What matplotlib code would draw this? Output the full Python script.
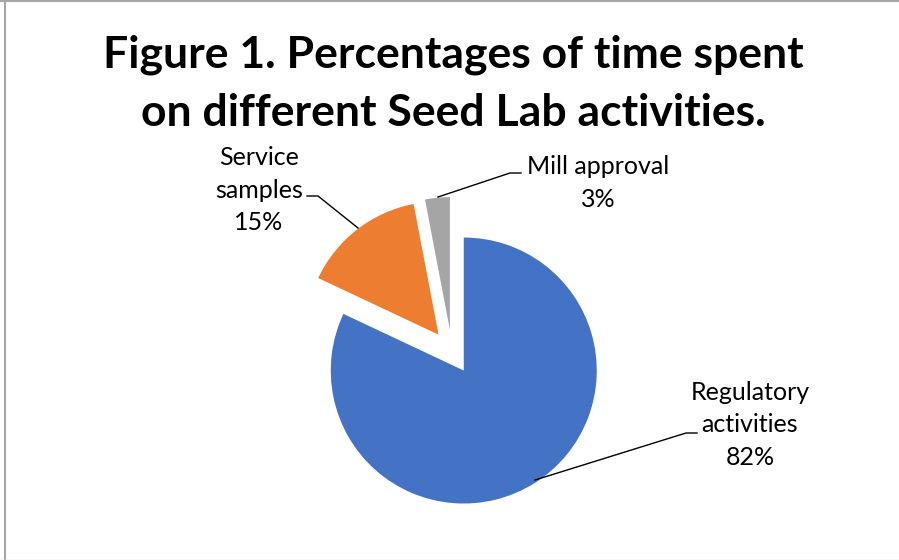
import matplotlib
matplotlib.use('Agg')
import matplotlib.pyplot as plt
import numpy as np

# data
categories = ['Regulatory\nactivities', 'Service\nsamples', 'Mill approval']
shares = [82, 15, 3]
colors = ['#4472C4', '#ED7D31', '#A5A5A5']
title = 'Figure 1. Percentages of time spent\non different Seed Lab activities.'

W, H = 899, 560
R_PX = 133.0          # pie radius in pixels
CX, CY = 452.0, 352.0  # pie centre (pixels from top-left)

plt.rcParams['font.family'] = ['Lato', 'DejaVu Sans']

fig = plt.figure(figsize=(W / 100, H / 100), dpi=100)
ax = fig.add_axes([0, 0, 1, 1])

wedges, _ = ax.pie(shares, colors=colors, startangle=90, counterclock=False,
                   explode=[0.165] * len(shares), radius=1.0,
                   wedgeprops=dict(linewidth=0))

ax.set_aspect('auto')
ax.set_xlim(-CX / R_PX, (W - CX) / R_PX)
ax.set_ylim(-(H - CY) / R_PX, CY / R_PX)
ax.axis('off')


def px(x, y):
    # pixel coords (top-left origin) -> data coords
    return (x - CX) / R_PX, (CY - y) / R_PX


# label positions and leader lines (pixels)
label_pos = [(750, 425), (259, 190), (598, 183)]
leaders = [
    [(697, 433), (686, 433), (535, 480)],
    [(307, 196), (318, 196), (358, 228)],
    [(521, 173), (510, 173), (438, 197)],
]

for name, val, (lx, ly), pts in zip(categories, shares, label_pos, leaders):
    ax.text(*px(lx, ly), f'{name}\n{val}%', ha='center', va='center',
            fontsize=18, linespacing=1.5, color='#000000')
    xy = np.array([px(*p) for p in pts])
    ax.plot(xy[:, 0], xy[:, 1], color='black', lw=1.0)

fig.text(453 / W, 1 - 84 / H, title, ha='center', va='center',
         fontsize=32, fontweight='bold', linespacing=1.55)

# chart-area border
fig.add_artist(plt.Line2D([4.5 / W, 4.5 / W], [0, 1], color='#A6A6A6', lw=1.5,
                          transform=fig.transFigure))
fig.add_artist(plt.Line2D([0, 1], [1 - 0.5 / H, 1 - 0.5 / H], color='#A6A6A6',
                          lw=1.5, transform=fig.transFigure))
fig.add_artist(plt.Line2D([0, 1], [0.5 / H, 0.5 / H], color='#E0E0E0', lw=1,
                          transform=fig.transFigure))

fig.savefig('out.png', dpi=100)
